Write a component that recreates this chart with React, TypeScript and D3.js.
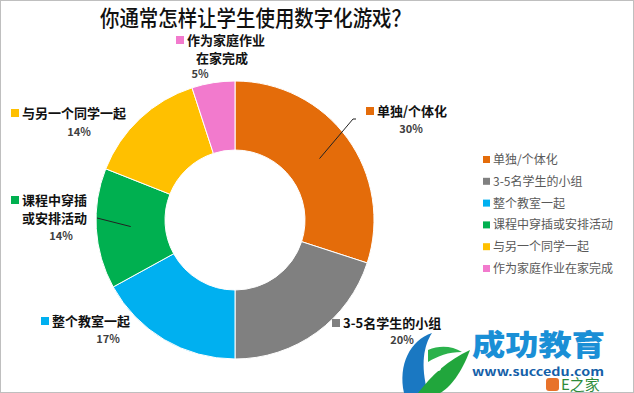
import React from 'react';
import * as d3 from 'd3';

const categories = ['单独/个体化', '3-5名学生的小组', '整个教室一起', '课程中穿插或安排活动', '与另一个同学一起', '作为家庭作业在家完成'];
const values = [30, 20, 17, 14, 14, 5];
const colors = ['#E46C0A', '#808080', '#00B0F0', '#00B050', '#FFC000', '#F27ACD'];
// wrapped label lines for the slice labels
const labelLines = [['单独/个体化'], ['3-5名学生的小组'], ['整个教室一起'], ['课程中穿插', '或安排活动'], ['与另一个同学一起'], ['作为家庭作业', '在家完成']];

const W = 634;
const H = 393;
const cx = 235;
const cy = 220;
const outerR = 139;
const innerR = 70;
const FONT = '"Noto Sans CJK SC", "Noto Sans", sans-serif';

// label anchor (square marker x, first line y) and percent position
const labelPos = [
  { x: 366, y: 111, px: 411, py: 133, leader: [357, 119] },
  { x: 332, y: 323, px: 402, py: 344, leader: null },
  { x: 41, y: 321, px: 108, py: 343, leader: null },
  { x: 11, y: 200, px: 61, py: 240, leader: [97, 218] },
  { x: 11, y: 113, px: 79, py: 136, leader: null },
  { x: 176, y: 40, px: 200, py: 78, leader: null },
];

const App: React.FC = () => {
  const pie = d3.pie<number>().value(d => d).sort(null);
  const arcs = pie(values);
  const arc = d3.arc<d3.PieArcDatum<number>>().innerRadius(innerR).outerRadius(outerR);
  const total = d3.sum(values);

  return (
    <svg width={W} height={H} style={{ position: 'absolute', left: 0, top: 0, background: '#fff' }} fontFamily={FONT}>
      <rect x={0.5} y={0.5} width={W - 1} height={H - 1} fill="#fff" stroke="#bfbfbf" />
      <text x={100} y={26} fontSize={22} fontWeight={500} textLength={311} lengthAdjust="spacingAndGlyphs" fill="#111">
        你通常怎样让学生使用数字化游戏？
      </text>

      <g transform={`translate(${cx},${cy})`}>
        {arcs.map((a, i) => (
          <path key={i} d={arc(a) || ''} fill={colors[i]} stroke="#fff" strokeWidth={1} />
        ))}
      </g>

      {arcs.map((a, i) => {
        const p = labelPos[i];
        const [mx, my] = arc.centroid(a);
        const lines = labelLines[i];
        return (
          <g key={i}>
            {p.leader && (
              <polyline
                points={
                  i === 0
                    ? `${p.x - 10},${p.leader[1]} ${p.leader[0] - 4},${p.leader[1]} ${cx + mx},${cy + my}`
                    : `${p.leader[0]},${p.leader[1]} ${cx + mx},${cy + my}`
                }
                fill="none"
                stroke="#222"
                strokeWidth={1}
              />
            )}
            <rect x={p.x} y={p.y - 4} width={8} height={8} fill={colors[i]} />
            {lines.map((l, j) => (
              <text
                key={j}
                x={j === 0 ? p.x + 11 : i === 5 ? p.x + 20 : p.x + 11}
                y={p.y + 5 + j * 18}
                fontSize={13}
                fontWeight={700}
                fill="#111"
              >
                {l}
              </text>
            ))}
            <text x={p.px} y={p.py} fontSize={11} fontWeight={700} fill="#404040" textAnchor="middle">
              {`${Math.round((values[i] / total) * 100)}%`}
            </text>
          </g>
        );
      })}

      <g>
        {categories.map((c, i) => (
          <g key={c} transform={`translate(483,${160 + i * 21.8})`}>
            <rect x={0} y={-4} width={7} height={7} fill={colors[i]} />
            <text x={10} y={4} fontSize={12} fill="#595959">
              {c}
            </text>
          </g>
        ))}
      </g>

      {/* watermark */}
      <g>
        <path d="M404,393 C398,365 410,340 432,333 C424,345 420,365 428,393 Z" fill="#1a78c2" />
        <path d="M418,393 C432,375 448,360 470,350 C462,372 450,388 440,393 Z" fill="#21a63c" />
        <path d="M428,350 C440,345 452,346 462,352 C448,352 438,356 428,362 Z" fill="#2bb24c" />
        <circle cx={438} cy={368} r={3} fill="#fff" />
        <text x={472} y={356} fontSize={29} fontWeight={900} fill="#1a8fd6" textLength={133} lengthAdjust="spacingAndGlyphs">
          成功教育
        </text>
        <text x={472} y={376} fontSize={11} fontWeight={700} fill="#1560a8" textLength={132} lengthAdjust="spacingAndGlyphs">
          www.succedu.com
        </text>
        <rect x={546} y={378} width={13} height={13} rx={3} fill="#e8722a" />
        <text x={561} y={390} fontSize={15} fill="#2e8b3a">
          E之家
        </text>
      </g>
    </svg>
  );
};

export default App;
